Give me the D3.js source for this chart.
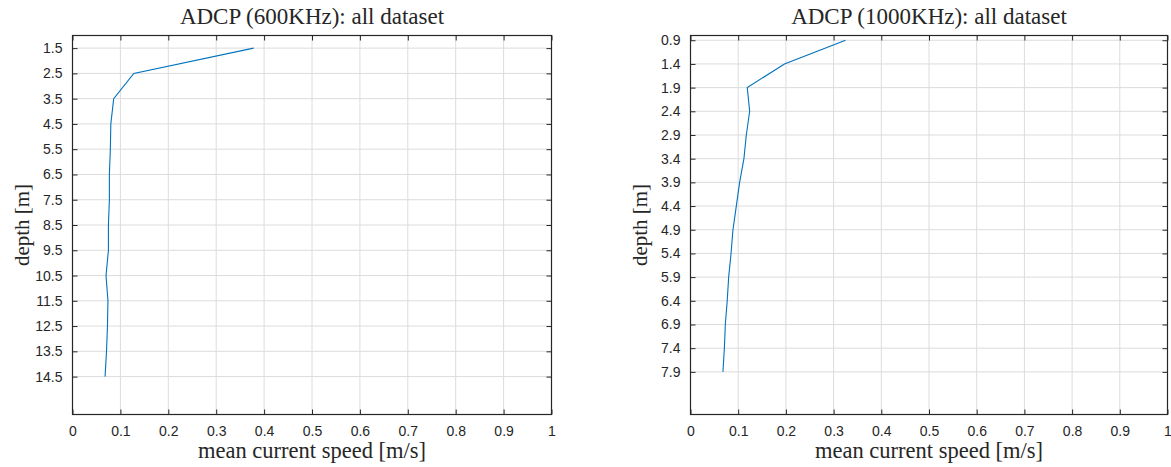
<!DOCTYPE html>
<html>
<head>
<meta charset="utf-8">
<script src="https://cdn.jsdelivr.net/npm/d3@7"></script>
<style>
  body { margin: 0; background: #fff; }
  svg { display: block; }
  .tick text { font-family: "Liberation Sans", Arial, sans-serif; font-size: 14px; fill: #262626; }
  .lbl { font-family: "Liberation Serif", "DejaVu Serif", serif; fill: #262626; }
</style>
</head>
<body>
<svg id="chart"></svg>
<script>
// 600 kHz ADCP: depth bins (m) and mean speed (m/s)
const depth600 = [1.5, 2.5, 3.5, 4.5, 5.5, 6.5, 7.5, 8.5, 9.5, 10.5, 11.5, 12.5, 13.5, 14.5];
const speed600 = [0.378, 0.128, 0.086, 0.080, 0.079, 0.077, 0.077, 0.075, 0.075, 0.070, 0.074, 0.073, 0.071, 0.068];

// 1000 kHz ADCP
const depth1000 = [0.9, 1.4, 1.9, 2.4, 2.9, 3.4, 3.9, 4.4, 4.9, 5.4, 5.9, 6.4, 6.9, 7.4, 7.9];
const speed1000 = [0.325, 0.197, 0.119, 0.124, 0.117, 0.112, 0.103, 0.096, 0.089, 0.085, 0.080, 0.077, 0.073, 0.071, 0.068];

const xTicks = [0, 0.1, 0.2, 0.3, 0.4, 0.5, 0.6, 0.7, 0.8, 0.9, 1];
const yTicks600 = depth600;
const yTicks1000 = depth1000;

const W = 1171, H = 467;
const svg = d3.select("#chart").attr("width", W).attr("height", H);

const plotTop = 35.5, plotBottom = 414.5;

function drawPanel(p) {
  const x = d3.scaleLinear().domain([0, 1]).range([p.left, p.right]);
  const y = d3.scaleLinear().domain(p.ylim).range([plotTop, plotBottom]);
  const g = svg.append("g");

  // grid
  g.append("g").selectAll("line").data(xTicks.slice(1, -1)).enter().append("line")
    .attr("x1", d => x(d)).attr("x2", d => x(d)).attr("y1", plotTop).attr("y2", plotBottom)
    .attr("stroke", "#dcdcdc").attr("stroke-width", 1);
  g.append("g").selectAll("line").data(p.yTicks).enter().append("line")
    .attr("x1", p.left).attr("x2", p.right).attr("y1", d => y(d)).attr("y2", d => y(d))
    .attr("stroke", "#dcdcdc").attr("stroke-width", 1);

  // axes (ticks inside, like matlab)
  g.append("g")
    .attr("transform", `translate(0,${plotBottom})`)
    .call(d3.axisBottom(x).tickValues(xTicks).tickSizeInner(-5).tickSizeOuter(0).tickPadding(12)
      .tickFormat(d3.format("")))
    .call(a => a.select(".domain").remove())
    .selectAll("line").attr("stroke", "#262626");
  g.append("g")
    .attr("transform", `translate(0,${plotTop})`)
    .call(d3.axisTop(x).tickValues(xTicks).tickSizeInner(-5).tickSizeOuter(0).tickFormat(""))
    .call(a => a.select(".domain").remove())
    .selectAll("line").attr("stroke", "#262626");
  g.append("g")
    .attr("transform", `translate(${p.left},0)`)
    .call(d3.axisLeft(y).tickValues(p.yTicks).tickSizeInner(-5).tickSizeOuter(0).tickPadding(10)
      .tickFormat(d3.format(".1f")))
    .call(a => a.select(".domain").remove())
    .selectAll("line").attr("stroke", "#262626");
  g.append("g")
    .attr("transform", `translate(${p.right},0)`)
    .call(d3.axisRight(y).tickValues(p.yTicks).tickSizeInner(-5).tickSizeOuter(0).tickFormat(""))
    .call(a => a.select(".domain").remove())
    .selectAll("line").attr("stroke", "#262626");

  g.selectAll(".tick text").attr("fill", "#262626");

  // box
  g.append("rect")
    .attr("x", p.left).attr("y", plotTop)
    .attr("width", p.right - p.left).attr("height", plotBottom - plotTop)
    .attr("fill", "none").attr("stroke", "#262626").attr("stroke-width", 1.2);

  // profile line
  const pts = p.depth.map((d, i) => [p.speed[i], d]);
  g.append("path")
    .datum(pts)
    .attr("fill", "none")
    .attr("stroke", "#0072BD")
    .attr("stroke-width", 1.1)
    .attr("d", d3.line().x(d => x(d[0])).y(d => y(d[1])));

  // labels
  const cx = (p.left + p.right) / 2;
  g.append("text").attr("class", "lbl")
    .attr("x", cx).attr("y", 24).attr("text-anchor", "middle")
    .style("font-size", "23px").text(p.title);
  g.append("text").attr("class", "lbl")
    .attr("x", cx).attr("y", 458).attr("text-anchor", "middle")
    .style("font-size", "22.5px").text("mean current speed [m/s]");
  g.append("text").attr("class", "lbl")
    .attr("transform", `translate(${p.left - 44},${(plotTop + plotBottom) / 2}) rotate(-90)`)
    .attr("text-anchor", "middle")
    .style("font-size", "21px").text("depth [m]");
}

drawPanel({
  left: 72.5, right: 551.5, ylim: [1, 16], yTicks: yTicks600,
  depth: depth600, speed: speed600, title: "ADCP (600KHz): all dataset"
});
drawPanel({
  left: 690.5, right: 1167.5, ylim: [0.8, 8.8], yTicks: yTicks1000,
  depth: depth1000, speed: speed1000, title: "ADCP (1000KHz): all dataset"
});
</script>
</body>
</html>
